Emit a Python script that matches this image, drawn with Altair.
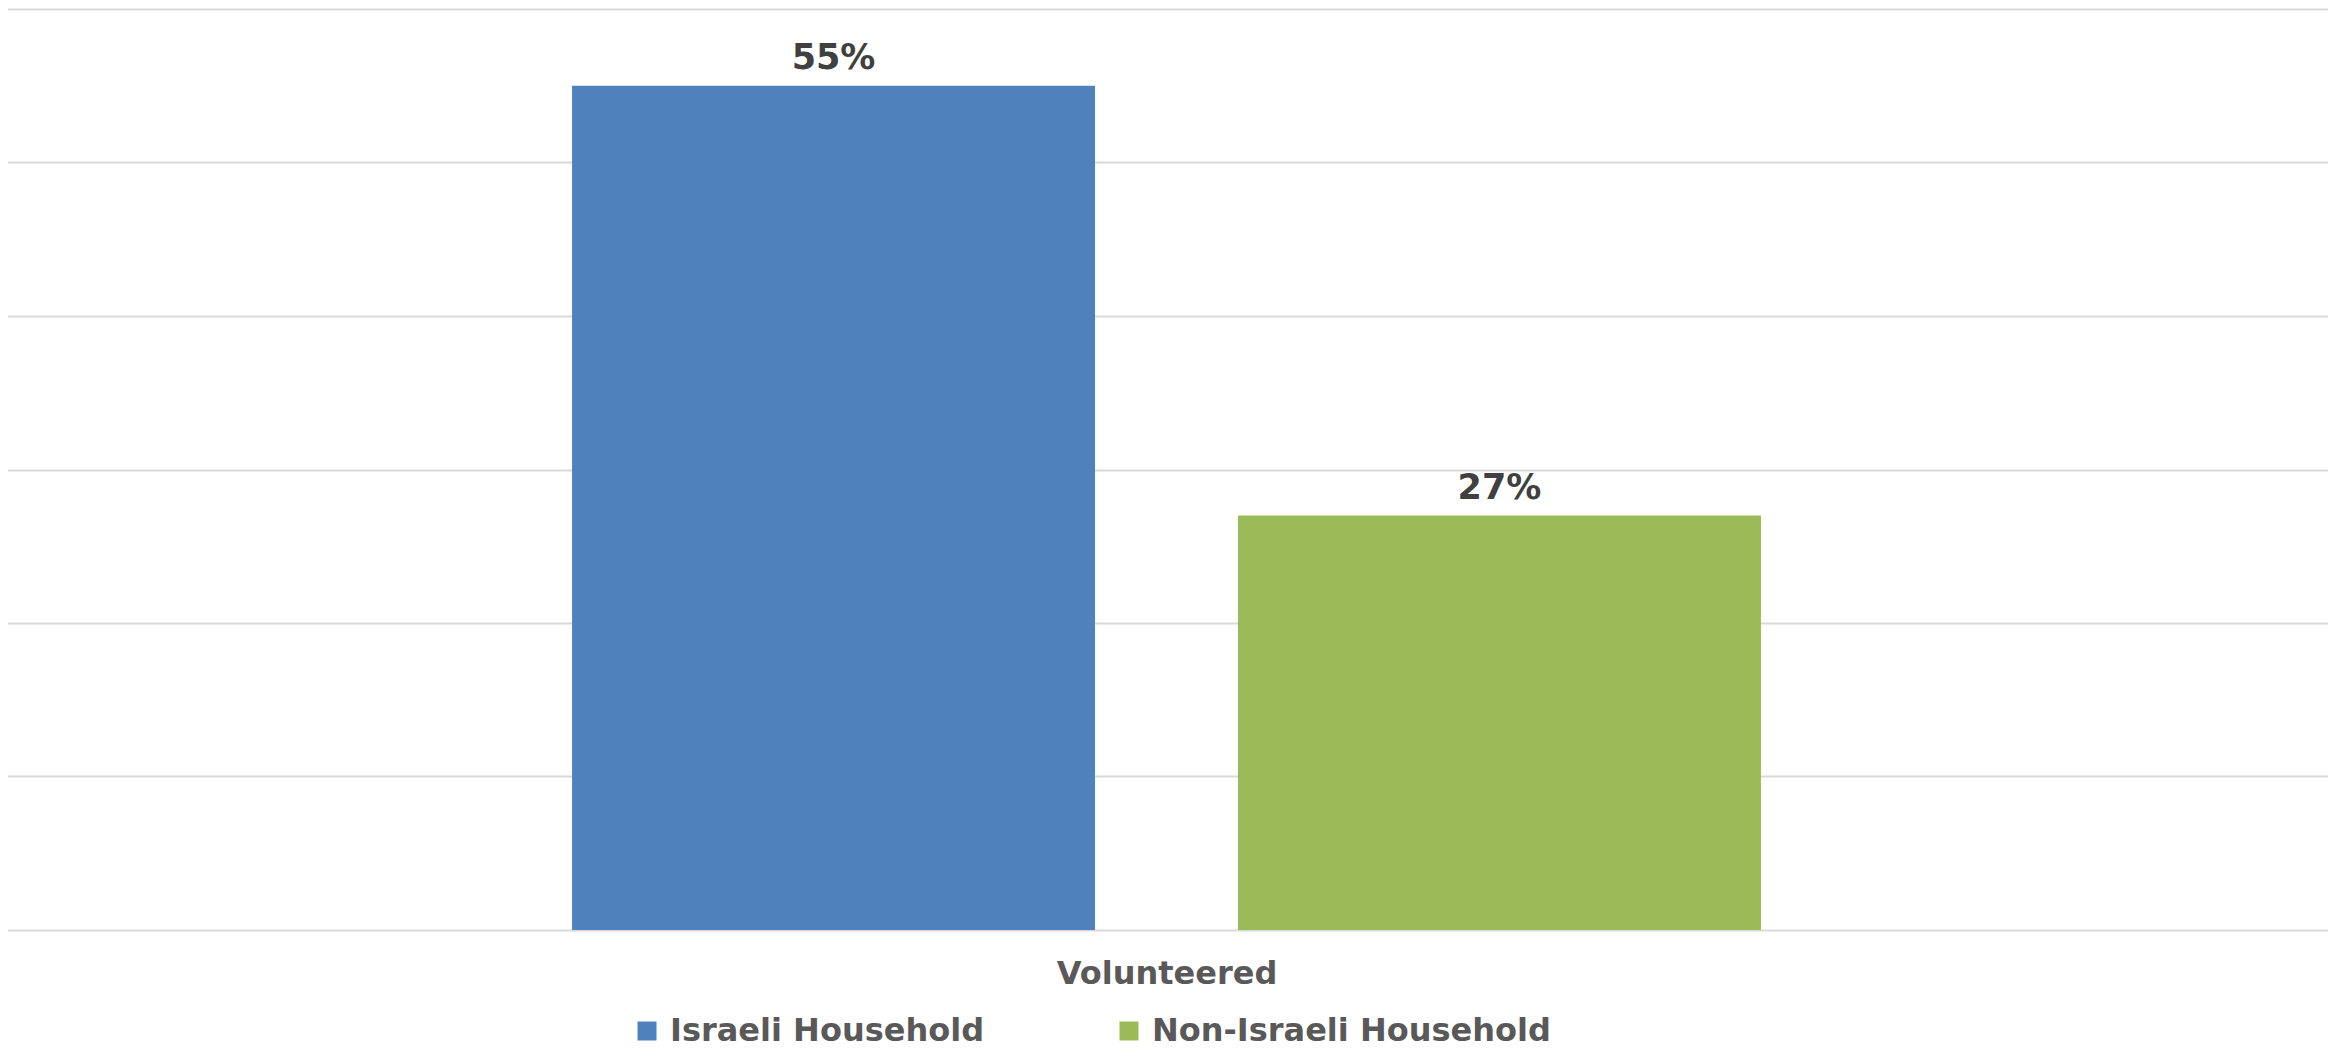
import altair as alt
import pandas as pd

# Data
category = "Volunteered"
series = ["Israeli Household", "Non-Israeli Household"]
values = [0.55, 0.27]
value_labels = ["55%", "27%"]
colors = ["#4F81BD", "#9BBB59"]
grid_ticks = [0.0, 0.1, 0.2, 0.3, 0.4, 0.5, 0.6]

df = pd.DataFrame({"series": series, "value": values, "label": value_labels})

W = 2333
H = 921
FONT = "DejaVu Sans"

x_enc = alt.X(
    "series:N",
    sort=series,
    scale=alt.Scale(paddingInner=0.2147, paddingOuter=0.859),
    axis=alt.Axis(
        labels=False, ticks=False, domain=False, grid=False,
        title=category, titleFont=FONT, titleFontSize=32,
        titleFontWeight="bold", titleColor="#595959", titlePadding=28,
    ),
)
y_enc = alt.Y(
    "value:Q",
    scale=alt.Scale(domain=[0, 0.6], nice=False, zero=True),
    axis=alt.Axis(
        values=grid_ticks, labels=False, ticks=False, domain=False,
        grid=True, gridColor="#D9D9D9", gridWidth=2, title=None,
    ),
)

bars = alt.Chart(df).mark_bar().encode(
    x=x_enc,
    y=y_enc,
    color=alt.Color(
        "series:N",
        sort=series,
        scale=alt.Scale(domain=series, range=colors),
        legend=alt.Legend(
            title=None, orient="none", direction="horizontal",
            legendX=631, legendY=1006, padding=0,
            symbolType="square", symbolSize=361, symbolStrokeWidth=0,
            labelFont=FONT, labelFontSize=32, labelFontWeight="bold",
            labelColor="#595959", labelLimit=1000, labelOffset=7,
            columnPadding=128,
        ),
    ),
)

text = alt.Chart(df).mark_text(
    align="center", baseline="alphabetic", dy=-17,
    font=FONT, fontSize=35, fontWeight="bold", color="#404040",
).encode(
    x=alt.X("series:N", sort=series),
    y=alt.Y("value:Q"),
    text="label:N",
)

chart = (
    alt.layer(bars, text)
    .properties(
        width=W, height=H, background="white",
        padding={"left": -8, "top": 1, "right": -5, "bottom": 1},
    )
    .configure_view(stroke=None)
)

chart.save("out.html", embed_options={"renderer": "svg", "actions": False})
